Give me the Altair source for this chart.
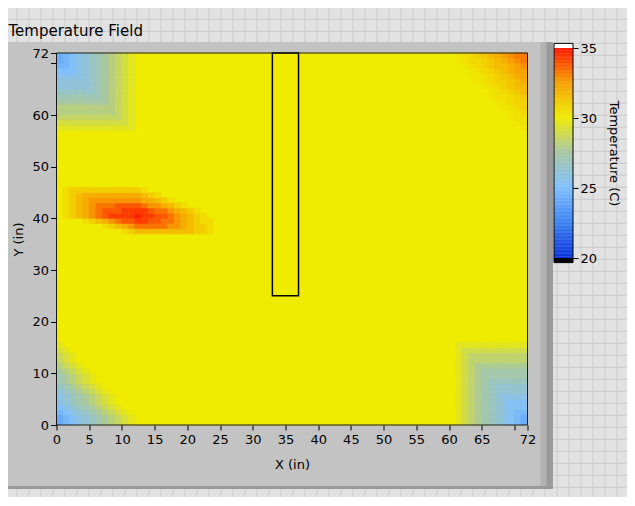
import altair as alt
import numpy as np
import pandas as pd

# ---------------- text ----------------
TITLE = "Temperature Field"
X_TITLE = "X (in)"
Y_TITLE = "Y (in)"
CB_TITLE = "Temperature (C)"
FONT = "DejaVu Sans"

# ---------------- axes ----------------
X_MAX = 72
Y_MAX = 72
X_TICKS = [0, 5, 10, 15, 20, 25, 30, 35, 40, 45, 50, 55, 60, 65, 70, 72]
Y_TICKS = [0, 10, 20, 30, 40, 50, 60, 70, 72]
CB_TICKS = [20, 25, 30, 35]
T_MIN, T_MAX = 20, 35

# ---------------- colour map ----------------
CMAP_T = [20, 22.5, 25, 27.5, 30, 32.5, 35]
CMAP_C = ["#0a34dc", "#3c84f2", "#80c0ff", "#a8c8a4", "#f0ec00", "#f8a000", "#ff1400"]

# ---------------- field values ----------------
BACKGROUND_T = 30.0

# corner zones: ring temperatures from the corner cell outward, extent (cols, rows)
TL_RINGS = [24.2, 24.6, 25.0, 25.5, 26.0, 26.5, 27.0, 27.5, 28.0, 28.5, 29.0, 29.5]
TL_EXTENT = [12, 15]
TL_SHAPE = "box"

BL_RINGS = [24.1, 24.6, 25.1, 25.6, 26.1, 26.6, 27.1, 27.6, 28.1, 28.6, 29.1, 29.6]
BL_EXTENT = [12, 16]
BL_SHAPE = "diamond"

BR_RINGS = [24.2, 24.7, 25.2, 25.7, 26.2, 26.7, 27.2, 27.7, 28.3, 28.9, 29.5]
BR_EXTENT = [11, 16]
BR_SHAPE = "box"

TR_RINGS = [33.2, 32.8, 32.4, 32.0, 31.6, 31.2, 30.9, 30.6, 30.4, 30.2]
TR_EXTENT = [11, 15]
TR_SHAPE = "diamond"

# hot spot: one string per row (y), one digit per column starting at HOT_X0
HOT_X0 = 1
HOT_ROWS_Y = [45, 44, 43, 42, 41, 40, 39, 38, 37]
HOT_LEVELS = [
    "122222222222100000000000",
    "123444444444321000000000",
    "123455555555443210000000",
    "123456667777655432100000",
    "123456777888876654321000",
    "123456788889887765432100",
    "000123456778877665432110",
    "000000123456666655432210",
    "000000000123333333332210",
]
HOT_LEVEL_T = [30.0, 30.5, 31.0, 31.6, 32.1, 32.7, 33.3, 33.8, 34.3, 34.8]

# sensor outline
BOX_X = [33, 37]
BOX_Y = [25, 72]

# ---------------- build cell table ----------------
cells = {}


def add_corner(rings, extent, shape, right, top):
    n = len(rings)
    nx, ny = extent
    for dx in range(nx):
        for dy in range(ny):
            u, v = dx / nx, dy / ny
            r = max(u, v) if shape == "box" else u + v
            k = int(r * n + 1e-9)
            if k < n:
                ix = X_MAX - 1 - dx if right else dx
                iy = Y_MAX - 1 - dy if top else dy
                cells[(ix, iy)] = rings[k]


add_corner(TL_RINGS, TL_EXTENT, TL_SHAPE, right=False, top=True)
add_corner(BL_RINGS, BL_EXTENT, BL_SHAPE, right=False, top=False)
add_corner(BR_RINGS, BR_EXTENT, BR_SHAPE, right=True, top=False)
add_corner(TR_RINGS, TR_EXTENT, TR_SHAPE, right=True, top=True)

for yrow, s in zip(HOT_ROWS_Y, HOT_LEVELS):
    for j, ch in enumerate(s):
        lv = int(ch)
        if lv > 0:
            cells[(HOT_X0 + j, yrow)] = HOT_LEVEL_T[lv]

rows = [{"x0": 0, "x1": X_MAX, "y0": 0, "y1": Y_MAX, "t": BACKGROUND_T}]
for (ix, iy), t in sorted(cells.items()):
    rows.append({"x0": ix, "x1": ix + 1, "y0": iy, "y1": iy + 1, "t": t})
heat_df = pd.DataFrame(rows)

box_df = pd.DataFrame({"x0": [BOX_X[0]], "x1": [BOX_X[1]], "y0": [BOX_Y[0]], "y1": [BOX_Y[1]]})
frame_df = pd.DataFrame({"x0": [0], "x1": [X_MAX], "y0": [0], "y1": [Y_MAX]})

# ---------------- layout ----------------
W, H = 471, 372
PAD = {"left": 48.5, "top": 45, "right": 99, "bottom": 72}
BG = "#e2e2e2"
GRID_C = "#cbcbcb"
PANEL_C = "#c3c3c3"

xs = alt.Scale(domain=[0, X_MAX], nice=False, zero=False)
ys = alt.Scale(domain=[0, Y_MAX], nice=False, zero=False)
cs = alt.Scale(domain=CMAP_T, range=CMAP_C, interpolate="rgb", clamp=True)

axis_common = dict(
    tickColor="black", labelColor="black", titleColor="black",
    labelFont=FONT, titleFont=FONT, labelFontSize=13, titleFontSize=13,
    titleFontWeight="normal", domain=False, grid=False, labelOverlap=False,
    zindex=2,
)
HIDE70 = "datum.value == 70 ? '' : datum.label"
x_axis = alt.Axis(values=X_TICKS, title=X_TITLE, tickSize=5, labelPadding=3, titlePadding=12,
                  labelFlush=False, labelExpr=HIDE70, **axis_common)
y_axis = alt.Axis(values=Y_TICKS, title=Y_TITLE, tickSize=6, labelPadding=2, titlePadding=6,
                  labelExpr=HIDE70, **axis_common)

heat = alt.Chart(heat_df).mark_rect(strokeWidth=0.6).encode(
    x=alt.X("x0:Q", scale=xs, axis=x_axis),
    x2="x1:Q",
    y=alt.Y("y0:Q", scale=ys, axis=y_axis),
    y2="y1:Q",
    color=alt.Color("t:Q", scale=cs, legend=None),
    stroke=alt.Stroke("t:Q", scale=cs, legend=None),
)

box = alt.Chart(box_df).mark_rect(fillOpacity=0, stroke="black", strokeWidth=1.5).encode(
    x=alt.X("x0:Q", scale=xs, axis=x_axis), x2="x1:Q",
    y=alt.Y("y0:Q", scale=ys, axis=y_axis), y2="y1:Q")

frame = alt.Chart(frame_df).mark_rect(fillOpacity=0, stroke="#1a1a1a", strokeWidth=1).encode(
    x=alt.X("x0:Q", scale=xs, axis=x_axis), x2="x1:Q",
    y=alt.Y("y0:Q", scale=ys, axis=y_axis), y2="y1:Q")

plot = alt.layer(heat, box, frame)

# colour bar
cb_vals = np.round(np.arange(T_MIN, T_MAX, 0.1), 2)
cb_df = pd.DataFrame({"v": cb_vals, "v2": cb_vals + 0.12})
CAP = 0.33
cap_df = pd.DataFrame({"a": [T_MAX, T_MIN - CAP], "b": [T_MAX + CAP, T_MIN], "c": ["white", "black"]})
cbb_df = pd.DataFrame({"a": [T_MIN - CAP], "b": [T_MAX + CAP]})
cby = alt.Scale(domain=[T_MIN, T_MAX], range=[205, -5], nice=False, zero=False)
CB_X = [497.5, 516.5]
cb_axis = alt.Axis(orient="right", offset=CB_X[1] - W, values=CB_TICKS, title=CB_TITLE,
                   tickSize=5, labelPadding=2, titlePadding=10, titleAngle=90, **axis_common)

cb = alt.Chart(cb_df).mark_rect().encode(
    x=alt.value(CB_X[0]), x2=alt.value(CB_X[1]),
    y=alt.Y("v:Q", scale=cby, axis=cb_axis),
    y2="v2:Q",
    color=alt.Color("v:Q", scale=cs, legend=None),
)
caps = alt.Chart(cap_df).mark_rect().encode(
    x=alt.value(CB_X[0]), x2=alt.value(CB_X[1]),
    y=alt.Y("a:Q", scale=cby, axis=cb_axis), y2="b:Q",
    fill=alt.Fill("c:N", scale=None),
)
cb_border = alt.Chart(cbb_df).mark_rect(fillOpacity=0, stroke="black", strokeWidth=1).encode(
    x=alt.value(CB_X[0]), x2=alt.value(CB_X[1]),
    y=alt.Y("a:Q", scale=cby, axis=cb_axis), y2="b:Q",
)
colorbar = alt.layer(cb, caps, cb_border)

# background decoration: grid and gray panel
gv = pd.DataFrame({"gx": [5 + 12 * k - 56.5 for k in range(53)]})
gh = pd.DataFrame({"gy": [7.3 + 12 * k - 53 for k in range(42)]})
id_x = alt.Scale(domain=[0, 100], range=[0, 100], nice=False, zero=False)
id_y = alt.Scale(domain=[0, 100], range=[0, 100], nice=False, zero=False)
grid_v = alt.Chart(gv).mark_rule(color=GRID_C, strokeWidth=1).encode(
    x=alt.X("gx:Q", scale=id_x, axis=None), y=alt.value(-60), y2=alt.value(460))
grid_h = alt.Chart(gh).mark_rule(color=GRID_C, strokeWidth=1).encode(
    y=alt.Y("gy:Q", scale=id_y, axis=None), x=alt.value(-60), x2=alt.value(600))

one = pd.DataFrame({"k": [0]})
panel = alt.Chart(one).mark_rect(color=PANEL_C).encode(
    x=alt.value(-49), x2=alt.value(496.5), y=alt.value(-11), y2=alt.value(436))
edge1 = alt.Chart(one).mark_rect(color="#b2b2b2").encode(
    x=alt.value(484), x2=alt.value(496.5), y=alt.value(-11), y2=alt.value(436))
edge2 = alt.Chart(one).mark_rect(color="#9a9a9a").encode(
    x=alt.value(490), x2=alt.value(496.5), y=alt.value(-11), y2=alt.value(436))
edge3 = alt.Chart(one).mark_rect(color="#9a9a9a").encode(
    x=alt.value(-49), x2=alt.value(496.5), y=alt.value(433), y2=alt.value(436))

title = alt.Chart(one).mark_text(align="left", baseline="alphabetic", font=FONT,
                                  fontSize=15, color="black").encode(
    x=alt.value(-48), y=alt.value(-17), text=alt.value(TITLE))

chart = alt.layer(grid_v, grid_h, panel, edge1, edge2, edge3, title, plot, colorbar).resolve_scale(
    x="independent", y="independent"
).properties(
    width=W, height=H,
    autosize=alt.AutoSizeParams(type="none"),
    padding=PAD,
    background=BG,
).configure_view(strokeWidth=0)

chart.save("out.html", embed_options={"renderer": "svg", "actions": False})
